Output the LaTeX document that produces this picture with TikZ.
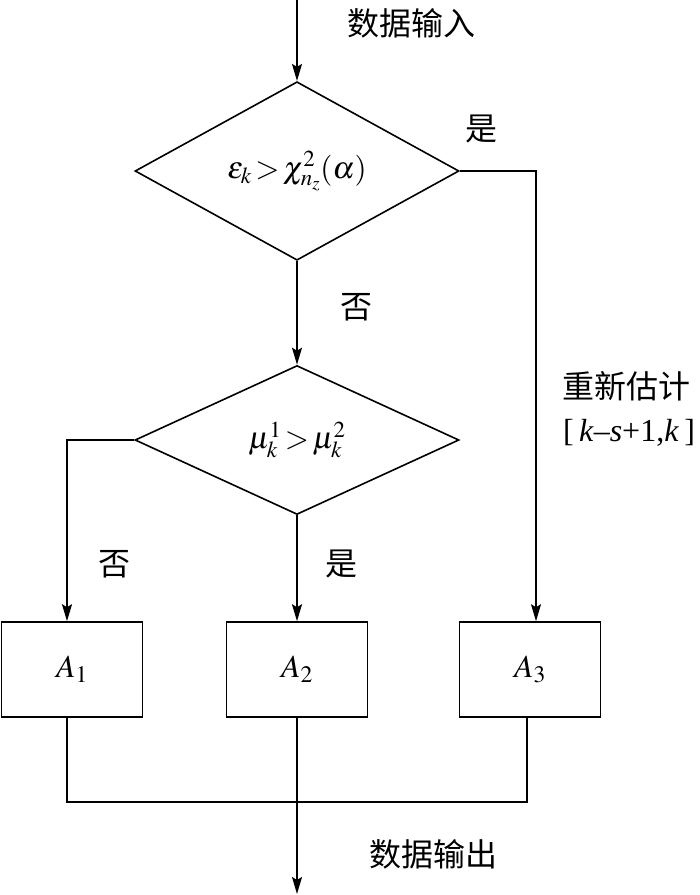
\documentclass[tikz,border=0pt]{standalone}
\usepackage{mathptmx}
\usepackage{fontspec}
\setmainfont{Liberation Serif}
\newfontfamily\cjk{Noto Sans CJK SC}
\usetikzlibrary{shapes.geometric,arrows.meta}
\begin{document}
\begin{tikzpicture}[x=1pt,y=-1pt,
  line width=1.6pt,
  decision/.style={draw,diamond,inner sep=0pt,font=\fontsize{31}{36}\selectfont},
  box/.style={draw,rectangle,minimum width=141pt,minimum height=95pt,inner sep=0pt,font=\fontsize{32}{36}\selectfont},
  lbl/.style={font=\cjk\fontsize{32}{36}\selectfont,inner sep=0pt},
  mlbl/.style={font=\fontsize{32}{36}\selectfont,inner sep=0pt},
  arr/.style={-{Stealth[length=17pt,width=10pt,inset=3pt]}}
]
\useasboundingbox (0,0) rectangle (700,895);
\fill[white] (0,0) rectangle (700,895);

\node[decision,minimum width=324pt,minimum height=174pt] (d1) at (297,171) {$\varepsilon_k \!>\! \chi^2_{n_z}(\alpha)$};
\node[decision,minimum width=324pt,minimum height=149pt] (d2) at (297,440) {$\mu^1_k \!>\! \mu^2_k$};

\node[box] (A1) at (72,669.5) {$A_1$};
\node[box] (A2) at (297,669.5) {$A_2$};
\node[box] (A3) at (530,669.5) {$A_3$};

\coordinate (in) at (297,0);
\coordinate (out) at (297,894);
\coordinate (r) at (536,171);
\coordinate (l) at (67,440);
\coordinate (b1) at (67,802);
\coordinate (b3) at (527,802);

\draw[arr] (in) -- (d1.north);
\draw[arr] (d1.south) -- (d2.north);
\draw[arr] (d1.east) -- (r) -- (r |- A3.north);
\draw[arr] (d2.west) -- (l) -- (l |- A1.north);
\draw[arr] (d2.south) -- (A2.north);
\draw (b1 |- A1.south) -- (b1) -- (b3) -- (b3 |- A3.south);
\draw[arr] (A2.south) -- (out);

\node[lbl] (tin) at (411,23) {数据输入};
\node[lbl] (yes1) at (481,129) {是};
\node[lbl] (no1) at (356,307) {否};
\node[lbl] (re) at (626,386) {重新估计};
\node[mlbl] (rng) at (629,433) {[\,\textit{k}–\textit{s}+1,\textit{k}\,]};
\node[lbl] (no2) at (114,564) {否};
\node[lbl] (yes2) at (341,564) {是};
\node[lbl] (tout) at (433,854) {数据输出};
\end{tikzpicture}
\end{document}
